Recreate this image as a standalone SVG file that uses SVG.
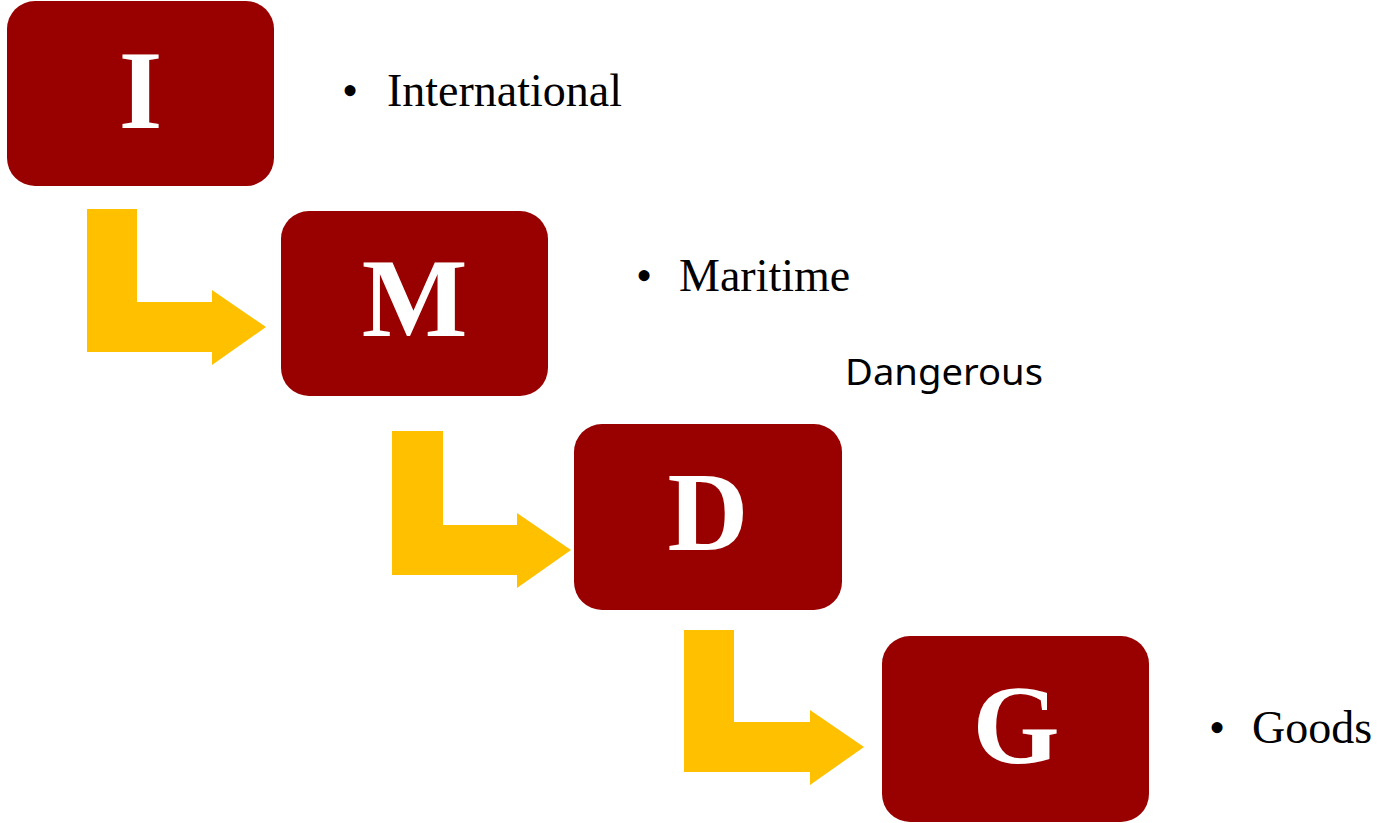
<svg xmlns="http://www.w3.org/2000/svg" width="1379" height="823" viewBox="0 0 1379 823">
<style>
.box{fill:#990000}
.arrow{fill:#FFC000}
.letter{font-family:"Liberation Serif","Times New Roman",serif;font-weight:bold;font-size:112px;fill:#fff;text-anchor:middle}
.label{font-family:"Liberation Serif","Times New Roman",serif;font-size:46px;fill:#000}
.bullet{font-family:"Liberation Serif","Times New Roman",serif;font-size:46px;fill:#000;text-anchor:middle}
.sans{font-family:"Noto Sans","Open Sans",sans-serif;font-size:37px;fill:#000}
</style>
<rect width="1379" height="823" fill="#fff"/>
<g id="connectors">
<path class="arrow" d="M87,209 L137,209 L137,302 L212,302 L212,290 L266,327 L212,365 L212,352 L87,352 Z"/>
<path class="arrow" d="M392,431 L443,431 L443,525 L517,525 L517,513 L571,550 L517,588 L517,575 L392,575 Z"/>
<path class="arrow" d="M684,630 L734,630 L734,722 L810,722 L810,710 L864,747 L810,785 L810,772 L684,772 Z"/>
</g>
<g id="node-I">
<rect class="box" x="7" y="1" width="267" height="185" rx="28" ry="28"/>
<text class="letter" x="140.5" y="128">I</text>
</g>
<g id="node-M">
<rect class="box" x="281" y="211" width="267" height="185" rx="28" ry="28"/>
<text class="letter" x="414.5" y="336">M</text>
</g>
<g id="node-D">
<rect class="box" x="574" y="424" width="268" height="186" rx="28" ry="28"/>
<text class="letter" x="708" y="550">D</text>
</g>
<g id="node-G">
<rect class="box" x="882" y="636" width="267" height="186" rx="28" ry="28"/>
<text class="letter" x="1016" y="763">G</text>
</g>
<g id="labels">
<text class="bullet" x="350" y="106">•</text>
<text class="label" x="387" y="106">International</text>
<text class="bullet" x="644" y="291">•</text>
<text class="label" x="679" y="291">Maritime</text>
<text class="sans" x="845" y="385" textLength="198" lengthAdjust="spacingAndGlyphs">Dangerous</text>
<text class="bullet" x="1217" y="743">•</text>
<text class="label" x="1252" y="743">Goods</text>
</g>
</svg>
